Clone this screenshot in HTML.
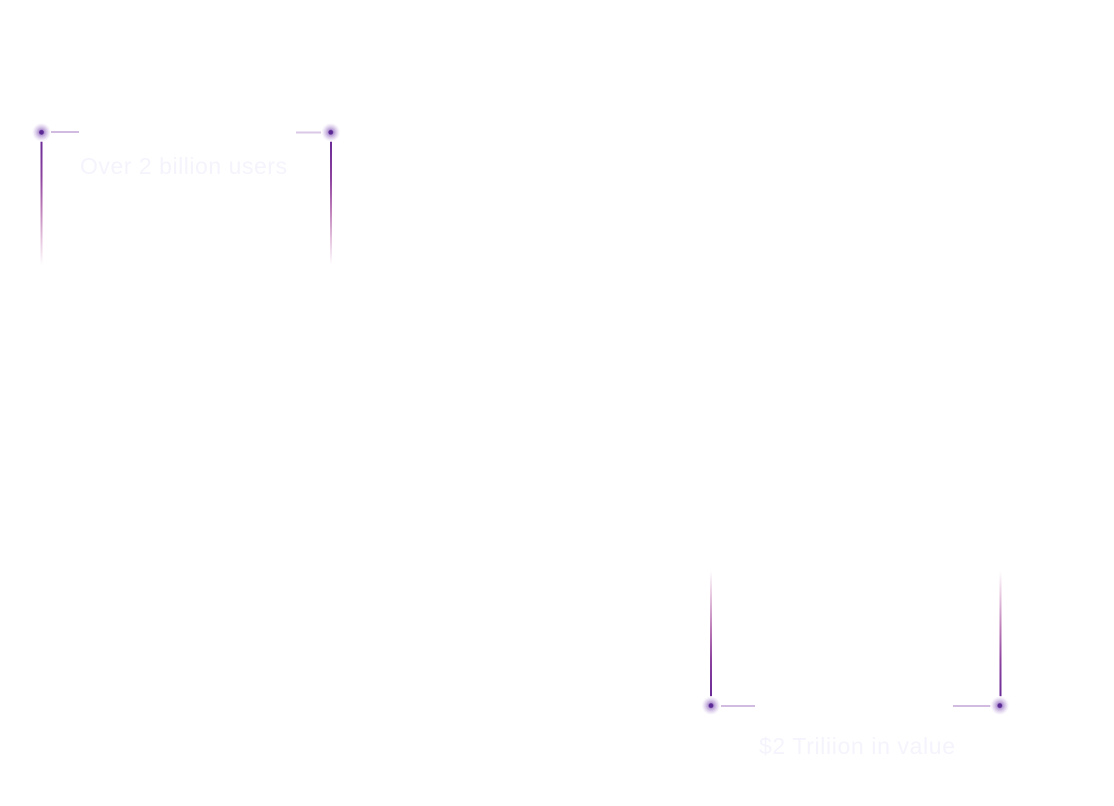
<!DOCTYPE html>
<html>
<head>
<meta charset="utf-8">
<style>
html,body{margin:0;padding:0;background:#fff;}
body{position:relative;width:1114px;height:806px;overflow:hidden;font-family:"Liberation Sans",sans-serif;}
svg{position:absolute;left:0;top:0;}
text{font-family:"Liberation Sans",sans-serif;font-size:23px;fill:#f5f4fd;}
</style>
</head>
<body>
<svg width="1114" height="806" viewBox="0 0 1114 806" xmlns="http://www.w3.org/2000/svg">
<defs>
<linearGradient id="down" gradientUnits="objectBoundingBox" x1="0" y1="0" x2="0" y2="1">
<stop offset="0" stop-color="#6a2a96"/>
<stop offset="0.3" stop-color="#8d439f"/>
<stop offset="0.55" stop-color="#bd7db8"/>
<stop offset="0.8" stop-color="#e6c6df"/>
<stop offset="1" stop-color="#ffffff"/>
</linearGradient>
<linearGradient id="up" gradientUnits="objectBoundingBox" x1="0" y1="1" x2="0" y2="0">
<stop offset="0" stop-color="#6a2a96"/>
<stop offset="0.3" stop-color="#8d439f"/>
<stop offset="0.55" stop-color="#bd7db8"/>
<stop offset="0.8" stop-color="#e6c6df"/>
<stop offset="1" stop-color="#ffffff"/>
</linearGradient>
<radialGradient id="glow">
<stop offset="0" stop-color="#5b2a95"/>
<stop offset="0.2" stop-color="#5b2a95"/>
<stop offset="0.3" stop-color="#b69bd4"/>
<stop offset="0.6" stop-color="#ddd0ec"/>
<stop offset="0.85" stop-color="#f6f2fa"/>
<stop offset="1" stop-color="#ffffff"/>
</radialGradient>
</defs>

<rect x="40.5" y="141" width="2" height="124" fill="url(#down)"/>
<rect x="330" y="141" width="2" height="124" fill="url(#down)"/>
<rect x="710" y="571" width="2" height="126" fill="url(#up)"/>
<rect x="999.5" y="571" width="2" height="126" fill="url(#up)"/>

<rect x="51" y="131" width="28" height="2" fill="#d2bbe0"/>
<rect x="296" y="131.5" width="25" height="2" fill="#d9c8e6"/>
<rect x="721" y="705" width="34" height="2" fill="#d2bbe0"/>
<rect x="953" y="705" width="38" height="2" fill="#d2bbe0"/>

<circle cx="41.5" cy="132.3" r="9.5" fill="url(#glow)"/>
<circle cx="330.8" cy="132.3" r="9.5" fill="url(#glow)"/>
<circle cx="711" cy="705.6" r="9.5" fill="url(#glow)"/>
<circle cx="999.8" cy="705.6" r="9.5" fill="url(#glow)"/>

<text x="80" y="174" textLength="207" lengthAdjust="spacing">Over 2 billion users</text>
<text x="759" y="754" textLength="196" lengthAdjust="spacing">$2 Triliion in value</text>
</svg>
</body>
</html>
